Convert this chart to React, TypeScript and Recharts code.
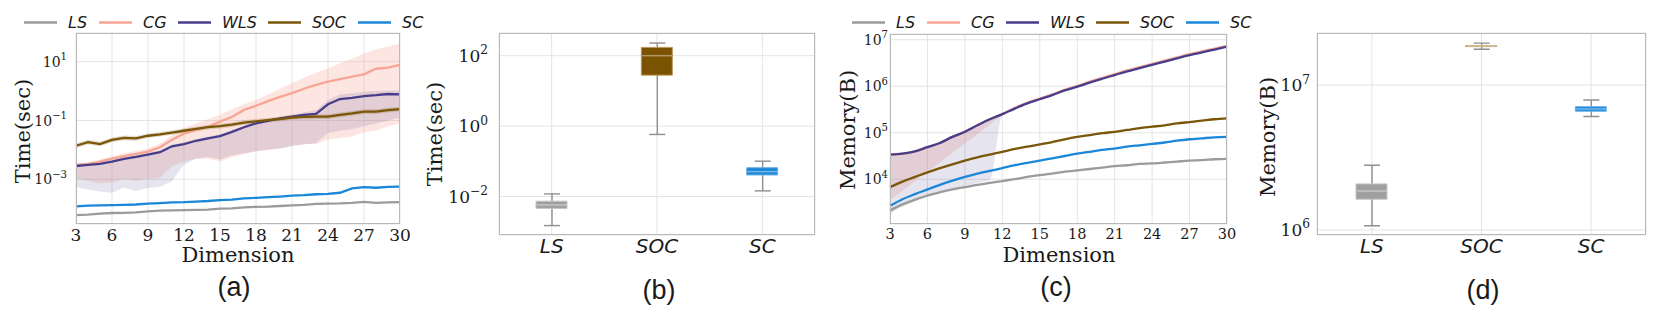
import React from 'react';
import { ComposedChart, Line, Area, Bar, Scatter, Cell, XAxis, YAxis, CartesianGrid } from 'recharts';

// x values for the line panels
const dims = [3, 4, 5, 6, 7, 8, 9, 10, 11, 12, 13, 14, 15, 16, 17, 18, 19, 20, 21, 22, 23, 24, 25, 26, 27, 28, 29, 30];
const dimTicks = [3, 6, 9, 12, 15, 18, 21, 24, 27, 30];

const seriesNames = ['LS', 'CG', 'WLS', 'SOC', 'SC'];
const colors: Record<string, string> = {
  LS: '#9b9b9b',
  CG: '#f7a594',
  WLS: '#483d8b',
  SOC: '#7a5608',
  SC: '#1a87d9',
};
const boxFill: Record<string, string> = { LS: '#9f9f9f', SOC: '#7a5200', SC: '#1a86d8' };
const boxEdge: Record<string, string> = { LS: '#c6c6c6', SOC: '#b8985a', SC: '#6cb2ea' };

// (a) time (sec) vs dimension
const lsTime = [6.0e-5, 6.3e-5, 6.8e-5, 7.1e-5, 7.2e-5, 7.4e-5, 8.1e-5, 8.5e-5, 8.7e-5, 8.9e-5, 9.1e-5, 9.3e-5, 1.0e-4, 1.02e-4, 1.1e-4, 1.15e-4, 1.17e-4, 1.23e-4, 1.29e-4, 1.35e-4, 1.45e-4, 1.48e-4, 1.51e-4, 1.58e-4, 1.7e-4, 1.58e-4, 1.62e-4, 1.66e-4];
const cgTime = [3.09e-3, 3.24e-3, 3.98e-3, 5.01e-3, 6.17e-3, 7.24e-3, 8.71e-3, 1.23e-2, 2.19e-2, 3.55e-2, 4.68e-2, 6.03e-2, 9.12e-2, 0.132, 0.229, 0.316, 0.457, 0.631, 0.851, 1.2, 1.62, 2.09, 2.57, 3.09, 3.72, 5.75, 6.31, 7.76];
const wlsTime = [2.82e-3, 3.09e-3, 3.31e-3, 3.98e-3, 4.9e-3, 5.75e-3, 6.92e-3, 8.32e-3, 1.32e-2, 1.58e-2, 2.04e-2, 2.45e-2, 2.95e-2, 4.07e-2, 5.89e-2, 7.94e-2, 9.77e-2, 0.117, 0.135, 0.155, 0.166, 0.355, 0.537, 0.589, 0.676, 0.724, 0.794, 0.776];
const socTime = [1.38e-2, 1.82e-2, 1.58e-2, 2.19e-2, 2.57e-2, 2.45e-2, 3.02e-2, 3.39e-2, 3.89e-2, 4.47e-2, 5.13e-2, 5.89e-2, 6.46e-2, 7.24e-2, 8.51e-2, 9.33e-2, 0.102, 0.112, 0.126, 0.132, 0.135, 0.135, 0.155, 0.174, 0.2, 0.2, 0.224, 0.245];
const scTime = [1.2e-4, 1.26e-4, 1.29e-4, 1.32e-4, 1.35e-4, 1.38e-4, 1.48e-4, 1.55e-4, 1.62e-4, 1.66e-4, 1.74e-4, 1.82e-4, 1.95e-4, 2.04e-4, 2.24e-4, 2.34e-4, 2.45e-4, 2.57e-4, 2.75e-4, 2.88e-4, 3.09e-4, 3.16e-4, 3.47e-4, 4.9e-4, 5.37e-4, 5.13e-4, 5.5e-4, 5.62e-4];

// shaded spread bands for (a)
const cgTimeLo = [1.0e-3, 8.9e-4, 7.1e-4, 7.9e-4, 1.0e-3, 8.9e-4, 1.0e-3, 1.12e-3, 2.82e-3, 3.98e-3, 5.0e-3, 5.0e-3, 4.0e-3, 5.6e-3, 7.1e-3, 8.9e-3, 1.0e-2, 1.12e-2, 1.41e-2, 1.58e-2, 1.58e-2, 2.24e-2, 2.51e-2, 2.82e-2, 3.98e-2, 4.47e-2, 6.31e-2, 7.94e-2];
const cgTimeHi = [3.55e-3, 3.8e-3, 4.68e-3, 6.03e-3, 7.59e-3, 9.12e-3, 1.12e-2, 1.66e-2, 3.16e-2, 5.5e-2, 7.94e-2, 0.112, 0.155, 0.24, 0.355, 0.501, 0.759, 1.2, 1.86, 2.82, 4.17, 5.89, 8.91, 12.6, 19.1, 26.3, 33.1, 41.7];
const wlsTimeLo = [5.6e-4, 4.5e-4, 3.8e-4, 3.5e-4, 5.2e-4, 4.0e-4, 5.0e-4, 5.6e-4, 8.5e-4, 3.16e-3, 5.0e-3, 5.75e-3, 4.68e-3, 6.6e-3, 7.6e-3, 8.9e-3, 1.0e-2, 1.12e-2, 1.32e-2, 1.51e-2, 1.7e-2, 3.72e-2, 4.47e-2, 5.0e-2, 6.3e-2, 7.9e-2, 0.1, 0.126];
const wlsTimeHi = [3.16e-3, 3.55e-3, 3.8e-3, 4.57e-3, 5.6e-3, 6.6e-3, 7.9e-3, 9.5e-3, 1.51e-2, 1.82e-2, 2.34e-2, 2.82e-2, 3.39e-2, 4.68e-2, 6.76e-2, 9.1e-2, 0.112, 0.135, 0.158, 0.19, 0.224, 0.5, 0.76, 0.85, 0.95, 1.0, 1.05, 1.05];
const socTimeLo = [1.15e-2, 1.51e-2, 1.32e-2, 1.82e-2, 2.14e-2, 2.04e-2, 2.51e-2, 2.82e-2, 3.24e-2, 3.72e-2, 4.27e-2, 4.9e-2, 5.37e-2, 6.03e-2, 7.08e-2, 7.76e-2, 8.51e-2, 9.33e-2, 0.105, 0.11, 0.112, 0.112, 0.129, 0.145, 0.166, 0.166, 0.186, 0.204];
const socTimeHi = [1.66e-2, 2.19e-2, 1.91e-2, 2.63e-2, 3.09e-2, 2.95e-2, 3.63e-2, 4.07e-2, 4.68e-2, 5.37e-2, 6.17e-2, 7.08e-2, 7.76e-2, 8.71e-2, 0.102, 0.112, 0.123, 0.135, 0.151, 0.158, 0.162, 0.162, 0.186, 0.209, 0.24, 0.24, 0.269, 0.295];

// (c) memory (B) vs dimension
const lsMem = [2140, 2880, 3630, 4470, 5250, 6030, 6760, 7590, 8320, 9120, 10000, 11200, 12300, 13200, 14500, 15500, 16600, 17800, 19100, 20000, 21400, 21900, 22900, 24000, 25100, 25700, 26900, 27500];
const cgMem = [33900, 35500, 39800, 49000, 60300, 81300, 104700, 144500, 195000, 251000, 343000, 442000, 543000, 668000, 841000, 1.01e6, 1.26e6, 1.51e6, 1.82e6, 2.19e6, 2.57e6, 3.02e6, 3.55e6, 4.17e6, 4.9e6, 5.62e6, 6.46e6, 7.41e6];
const wlsMem = [33900, 35500, 39800, 49000, 60300, 81300, 104700, 144500, 195000, 251000, 331000, 427000, 525000, 646000, 813000, 977000, 1.2e6, 1.45e6, 1.74e6, 2.09e6, 2.45e6, 2.88e6, 3.39e6, 3.98e6, 4.68e6, 5.37e6, 6.17e6, 7.08e6];
const socMem = [6760, 8910, 11200, 14100, 17400, 20900, 25100, 29500, 33900, 38900, 44700, 50100, 56200, 63100, 72400, 81300, 89100, 97700, 104700, 114800, 125900, 134900, 144500, 158500, 169800, 182000, 195000, 204000];
const scMem = [2690, 3720, 4790, 6030, 7590, 9330, 11200, 13200, 15100, 17400, 20000, 22400, 25100, 28200, 31600, 35500, 38900, 42700, 45700, 50100, 53700, 57500, 61700, 67600, 72400, 75900, 79400, 81300];

const cgMemLo = [3550, 5620, 9120, 14500, 22900, 37200, 58900, 93300, 151000, 240000, 331000, 427000, 525000, 646000, 813000, 977000, 1.2e6, 1.45e6, 1.74e6, 2.09e6, 2.45e6, 2.88e6, 3.39e6, 3.98e6, 4.68e6, 5.37e6, 6.17e6, 7.08e6];
const cgMemHi = [33900, 35500, 39800, 49000, 60300, 81300, 104700, 144500, 195000, 251000, 355000, 457000, 562000, 692000, 871000, 1.05e6, 1.32e6, 1.58e6, 1.91e6, 2.29e6, 2.69e6, 3.16e6, 3.72e6, 4.37e6, 5.13e6, 5.89e6, 6.76e6, 7.76e6];
const wlsMemLo = [1780, 2820, 3800, 4570, 5500, 6310, 7240, 8320, 9550, 251000, 331000, 427000, 525000, 646000, 813000, 977000, 1.2e6, 1.45e6, 1.74e6, 2.09e6, 2.45e6, 2.88e6, 3.39e6, 3.98e6, 4.68e6, 5.37e6, 6.17e6, 7.08e6];
const lsMemLo = [1850, 2550, 3300, 4150, 4950, 5750, 6500, 7350, 8100, 8900, 9800, 11000, 12100, 13000, 14300, 15300, 16400, 17600, 18900, 19800, 21200, 21700, 22700, 23800, 24900, 25500, 26700, 27300];

// (b) and (d) box plots
const boxNames = ['LS', 'SOC', 'SC'];
const timeWhiskLo = [0.0015, 0.58, 0.0145];
const timeQ1 = [0.0046, 28, 0.041];
const timeMed = [0.0058, 100, 0.051];
const timeQ3 = [0.0074, 172, 0.066];
const timeWhiskHi = [0.0119, 229, 0.101];

const memWhiskLo = [1.07e6, 1.77e7, 6.07e6];
const memQ1 = [1.63e6, 1.845e7, 6.6e6];
const memMed = [1.86e6, 1.86e7, 6.85e6];
const memQ3 = [2.08e6, 1.875e7, 7.1e6];
const memWhiskHi = [2.8e6, 1.95e7, 7.9e6];

const timeData = dims.map((x, i) => ({
  x,
  LS: lsTime[i], CG: cgTime[i], WLS: wlsTime[i], SOC: socTime[i], SC: scTime[i],
  cgBand: [cgTimeLo[i], cgTimeHi[i]],
  wlsBand: [wlsTimeLo[i], wlsTimeHi[i]],
  socBand: [socTimeLo[i], socTimeHi[i]],
}));

const memData = dims.map((x, i) => ({
  x,
  LS: lsMem[i], CG: cgMem[i], WLS: wlsMem[i], SOC: socMem[i], SC: scMem[i],
  cgBand: [cgMemLo[i], cgMemHi[i]],
  wlsBand: [wlsMemLo[i], wlsMem[i]],
  lsBand: [lsMemLo[i], lsMem[i]],
}));

const timeBoxData = boxNames.map((name, i) => ({
  name, whisk: [timeWhiskLo[i], timeWhiskHi[i]], box: [timeQ1[i], timeQ3[i]], med: timeMed[i],
}));
const memBoxData = boxNames.map((name, i) => ({
  name, whisk: [memWhiskLo[i], memWhiskHi[i]], box: [memQ1[i], memQ3[i]], med: memMed[i],
}));

const SERIF = 'DejaVu Serif';
const TEXT = '#1a1a1a';

function PowTick(props: any) {
  const { x, y, payload, fs } = props;
  const e = Math.round(Math.log10(payload.value));
  const s = e < 0 ? `\u2212${-e}` : `${e}`;
  return (
    <text x={x} y={y} textAnchor="end" fontFamily={SERIF} fontSize={fs} fill={TEXT}>
      <tspan dy={fs * 0.36}>10</tspan>
      <tspan dy={-fs * 0.45} fontSize={fs * 0.72}>{s}</tspan>
    </text>
  );
}

function Whisker(props: any) {
  const { x, y, width, height } = props;
  const top = Math.min(y, y + height);
  const bot = Math.max(y, y + height);
  const cx = x + width / 2;
  return (
    <g stroke="#8f8f8f" strokeWidth={1.4}>
      <line x1={cx} x2={cx} y1={top} y2={bot} />
      <line x1={x} x2={x + width} y1={top} y2={top} />
      <line x1={x} x2={x + width} y1={bot} y2={bot} />
    </g>
  );
}

function MedianMark(props: any) {
  const { cx, cy } = props;
  return <line x1={cx - 15} x2={cx + 15} y1={cy} y2={cy} stroke="rgba(255,255,255,0.4)" strokeWidth={1.5} />;
}

function Frame({ l, t, r, b }: { l: number; t: number; r: number; b: number }) {
  return (
    <div style={{
      position: 'absolute', left: l, top: t, width: r - l, height: b - t,
      border: '1px solid #b9b9b9', boxSizing: 'border-box', pointerEvents: 'none',
    }} />
  );
}

function Txt({ x, y, children, size, font, italic, rotate }: any) {
  return (
    <div style={{
      position: 'absolute', left: x, top: y, whiteSpace: 'nowrap', lineHeight: 1,
      fontFamily: font, fontSize: size, fontStyle: italic ? 'italic' : 'normal', color: TEXT,
      transform: `translate(-50%,-50%)${rotate ? ' rotate(-90deg)' : ''}`,
    }}>{children}</div>
  );
}

// legend layout: where each swatch starts, relative to the legend's left edge
const legendOffsets = [0, 75, 154, 244, 334];

function LegendRow({ left }: { left: number }) {
  return (
    <svg style={{ position: 'absolute', left, top: 8 }} width={440} height={30}>
      {seriesNames.map((n, i) => (
        <g key={n}>
          <line x1={legendOffsets[i]} x2={legendOffsets[i] + 33} y1={14.5} y2={14.5} stroke={colors[n]} strokeWidth={2.5} />
          <text x={legendOffsets[i] + 44} y={20.3} fontFamily="DejaVu Sans" fontStyle="italic" fontSize={16} fill={TEXT}>{n}</text>
        </g>
      ))}
    </svg>
  );
}

function LinePanel({ data, left, width, yw, mr, top, bottom, domain, ticks, yfs, gap, xfs, curve, bands }: any) {
  return (
    <div style={{ position: 'absolute', left, top: 0 }}>
      <ComposedChart width={width} height={316} data={data} margin={{ top, right: mr, left: 0, bottom: 316 - bottom - 30 }}>
        <CartesianGrid stroke="#e4e4e4" />
        <XAxis dataKey="x" type="number" domain={[3, 30]} ticks={dimTicks} interval={0} height={30}
          tickLine={false} axisLine={false} tickSize={0} tickMargin={5}
          tick={{ fontFamily: SERIF, fontSize: xfs, fill: TEXT }} />
        <YAxis scale="log" domain={domain} allowDataOverflow ticks={ticks} interval={0} width={yw}
          tickLine={false} axisLine={false} tickSize={0} tickMargin={gap} tick={<PowTick fs={yfs} />} />
        {bands.map((b: any) => (
          <Area key={b.key} dataKey={b.key} type={curve} stroke="none" fill={b.color} fillOpacity={b.op}
            isAnimationActive={false} dot={false} activeDot={false} />
        ))}
        {seriesNames.map((n) => (
          <Line key={n} dataKey={n} type={curve} stroke={colors[n]} strokeWidth={2.3} dot={false}
            activeDot={false} isAnimationActive={false} />
        ))}
      </ComposedChart>
    </div>
  );
}

function BoxPanel({ data, left, width, yw, mr, top, bottom, domain, ticks, yfs, gap }: any) {
  return (
    <div style={{ position: 'absolute', left, top: 0 }}>
      <ComposedChart width={width} height={316} data={data} margin={{ top, right: mr, left: 0, bottom: 316 - bottom - 40 }}>
        <CartesianGrid xAxisId="box" stroke="#e4e4e4" />
        <XAxis xAxisId="box" dataKey="name" type="category" height={40} tickLine={false} axisLine={false}
          tickSize={0} tickMargin={4}
          tick={{ fontFamily: 'DejaVu Sans', fontStyle: 'italic', fontSize: 20, fill: TEXT }} />
        <XAxis xAxisId="wh" dataKey="name" type="category" hide />
        <YAxis scale="log" domain={domain} allowDataOverflow ticks={ticks} interval={0} width={yw}
          tickLine={false} axisLine={false} tickSize={0} tickMargin={gap} tick={<PowTick fs={yfs} />} />
        <Bar xAxisId="wh" dataKey="whisk" barSize={16} shape={<Whisker />} isAnimationActive={false} />
        <Bar xAxisId="box" dataKey="box" barSize={31} strokeWidth={1} isAnimationActive={false}>
          {data.map((d: any) => <Cell key={d.name} fill={boxFill[d.name]} stroke={boxEdge[d.name]} />)}
        </Bar>
        <Scatter xAxisId="box" dataKey="med" shape={<MedianMark />} isAnimationActive={false} />
      </ComposedChart>
    </div>
  );
}

export default function App() {
  return (
    <div style={{ position: 'fixed', left: 0, top: 0, width: 1660, height: 316, background: '#fff', overflow: 'hidden' }}>
      {/* (a) */}
      <LinePanel data={timeData} left={0} width={420} yw={76} mr={20} top={33} bottom={224}
        domain={[3.0e-5, 94.6]} ticks={[1e-3, 1e-1, 10]} yfs={14} gap={9} xfs={17} curve="linear"
        bands={[
          { key: 'cgBand', color: colors.CG, op: 0.28 },
          { key: 'wlsBand', color: colors.WLS, op: 0.14 },
          { key: 'socBand', color: colors.SOC, op: 0.2 },
        ]} />
      <Frame l={76} t={33} r={400} b={224} />
      <LegendRow left={24} />
      <Txt x={23} y={131} size={21} font={SERIF} rotate>Time(sec)</Txt>
      <Txt x={238} y={255} size={21} font={SERIF}>Dimension</Txt>
      <Txt x={234} y={287} size={27} font="Liberation Sans">(a)</Txt>

      {/* (b) */}
      <BoxPanel data={timeBoxData} left={420} width={410} yw={79} mr={15} top={33} bottom={235}
        domain={[8.1e-4, 441]} ticks={[1e-2, 1, 1e2]} yfs={17} gap={11} />
      <Frame l={499} t={33} r={815} b={235} />
      <Txt x={435} y={134} size={21} font={SERIF} rotate>Time(sec)</Txt>
      <Txt x={659} y={290} size={27} font="Liberation Sans">(b)</Txt>

      {/* (c) */}
      <LinePanel data={memData} left={830} width={410} yw={60} mr={13} top={34} bottom={224}
        domain={[1089, 1.33e7]} ticks={[1e4, 1e5, 1e6, 1e7]} yfs={14} gap={2} xfs={14.5} curve="monotone"
        bands={[
          { key: 'cgBand', color: colors.CG, op: 0.28 },
          { key: 'wlsBand', color: colors.WLS, op: 0.14 },
          { key: 'lsBand', color: colors.LS, op: 0.25 },
        ]} />
      <Frame l={890} t={34} r={1227} b={224} />
      <LegendRow left={852} />
      <Txt x={848} y={130} size={21} font={SERIF} rotate>Memory(B)</Txt>
      <Txt x={1059} y={255} size={21} font={SERIF}>Dimension</Txt>
      <Txt x={1056} y={287} size={27} font="Liberation Sans">(c)</Txt>

      {/* (d) */}
      <BoxPanel data={memBoxData} left={1240} width={420} yw={77} mr={14} top={33} bottom={235}
        domain={[9.23e5, 2.29e7]} ticks={[1e6, 1e7]} yfs={17} gap={7} />
      <Frame l={1317} t={33} r={1646} b={235} />
      <Txt x={1268} y={137} size={21} font={SERIF} rotate>Memory(B)</Txt>
      <Txt x={1483} y={290} size={27} font="Liberation Sans">(d)</Txt>
    </div>
  );
}
